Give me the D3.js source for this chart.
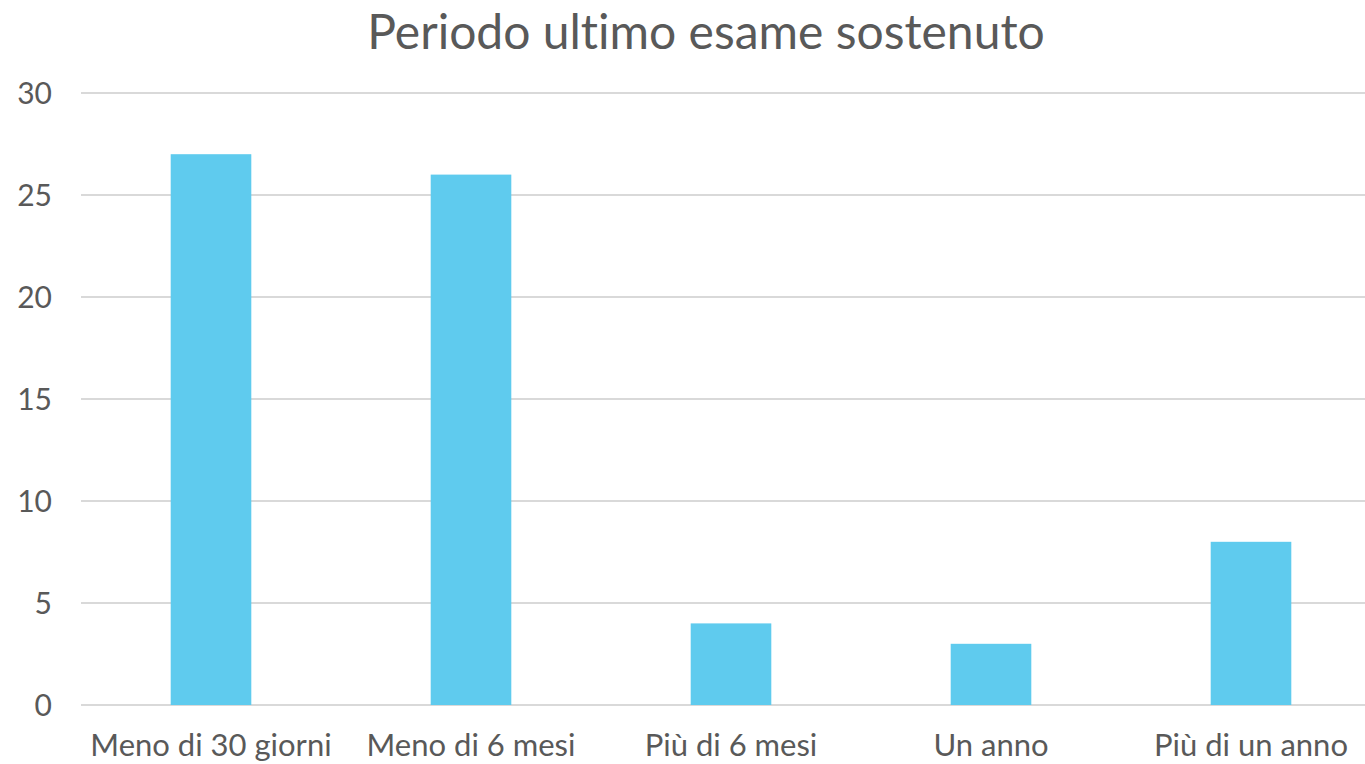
<!DOCTYPE html>
<html>
<head>
<meta charset="utf-8">
<script src="https://cdn.jsdelivr.net/npm/d3@7"></script>
<style>
	body { margin: 0; background: #fff; }
	svg text { font-family: Lato, "Open Sans", sans-serif; fill: #595959; font-variant-ligatures: none; }
</style>
</head>
<body>
<svg id="plot" width="1365" height="764"></svg>
<script>
const CATEGORIES = ['Meno di 30 giorni', 'Meno di 6 mesi', 'Più di 6 mesi', 'Un anno', 'Più di un anno'];
const VALUES = [27, 26, 4, 3, 8];
const Y_TICKS = [0, 5, 10, 15, 20, 25, 30];
const TITLE = 'Periodo ultimo esame sostenuto';

const svg = d3.select('#plot');

const x = d3.scaleBand().domain(CATEGORIES).range([81, 1381])
	.paddingInner(0.69).paddingOuter(0.345);
const y = d3.scaleLinear().domain([0, 30]).range([705, 93]);

// grid lines
svg.selectAll('.grid')
	.data(Y_TICKS)
	.enter().append('line')
	.attr('x1', 81).attr('x2', 1381)
	.attr('y1', d => y(d)).attr('y2', d => y(d))
	.attr('stroke', '#d9d9d9').attr('stroke-width', 2);

// bars
svg.selectAll('.bar')
	.data(VALUES)
	.enter().append('rect')
	.attr('x', (d, i) => x(CATEGORIES[i]))
	.attr('y', d => y(d))
	.attr('width', x.bandwidth())
	.attr('height', d => y(0) - y(d))
	.attr('fill', '#5fcbee');

// y labels
svg.selectAll('.ylab')
	.data(Y_TICKS)
	.enter().append('text')
	.attr('x', 52)
	.attr('y', d => y(d))
	.attr('dy', '0.36em')
	.attr('text-anchor', 'end')
	.attr('font-size', 30)
	.text(d => d);

// x labels
svg.selectAll('.xlab')
	.data(CATEGORIES)
	.enter().append('text')
	.attr('x', d => x(d) + x.bandwidth() / 2)
	.attr('y', 756)
	.attr('text-anchor', 'middle')
	.attr('font-size', 31)
	.text(d => d);

svg.append('text')
	.attr('x', 706)
	.attr('y', 49)
	.attr('text-anchor', 'middle')
	.attr('font-size', 48)
	.text(TITLE);
</script>
</body>
</html>
